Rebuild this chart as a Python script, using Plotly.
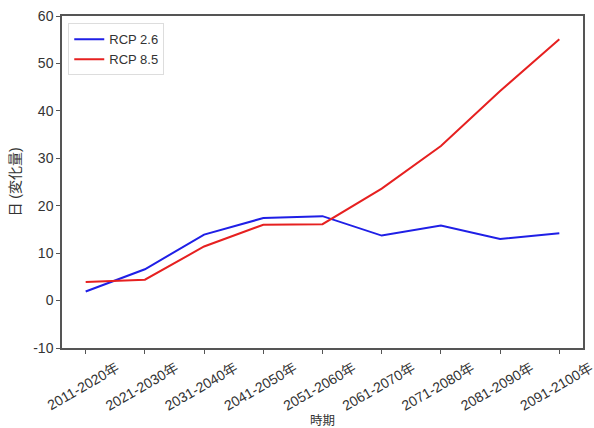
import plotly.graph_objects as go

periods = ["2011-2020年", "2021-2030年", "2031-2040年", "2041-2050年", "2051-2060年",
           "2061-2070年", "2071-2080年", "2081-2090年", "2091-2100年"]
rcp26 = [1.9, 6.6, 13.9, 17.4, 17.8, 13.7, 15.8, 13.0, 14.2]
rcp85 = [3.9, 4.4, 11.4, 16.0, 16.1, 23.6, 32.6, 44.2, 55.1]

y_ticks = [-10, 0, 10, 20, 30, 40, 50, 60]
y_tick_text = ["-10", "0", "10", "20", "30", "40", "50", "60"]

font_latin = "Liberation Sans, Arial, sans-serif"
font_cjk = "Liberation Sans, Noto Sans CJK JP, sans-serif"
axis_color = "#555555"

fig = go.Figure()
fig.add_trace(go.Scatter(x=periods, y=rcp26, mode="lines", name="RCP 2.6",
                         line=dict(color="#1f1fe6", width=2)))
fig.add_trace(go.Scatter(x=periods, y=rcp85, mode="lines", name="RCP 8.5",
                         line=dict(color="#e62020", width=2)))

fig.update_layout(
    width=594, height=428,
    margin=dict(l=62, r=11, t=16, b=80, autoexpand=False),
    paper_bgcolor="white", plot_bgcolor="white",
    font=dict(family=font_cjk, size=12, color="#333333"),
    showlegend=True,
    legend=dict(x=0.012, y=0.978, xanchor="left", yanchor="top",
                bgcolor="rgba(255,255,255,0.8)", bordercolor="#dddddd", borderwidth=1,
                font=dict(family=font_latin, size=13, color="#333333"),
                itemwidth=30, tracegroupgap=0),
    xaxis=dict(
        type="category", range=[-0.4, 8.4], automargin=False,
        showline=True, linecolor=axis_color, linewidth=1.5, mirror=True,
        ticks="outside", ticklen=4, tickcolor=axis_color,
        tickangle=-30, ticklabelshift=31, ticklabelstandoff=1,
        tickfont=dict(family=font_cjk, size=14, color="#333333"),
        showgrid=False, zeroline=False,
        title=dict(text="時期", font=dict(family=font_cjk, size=12.5), standoff=15),
    ),
    yaxis=dict(
        range=[-10, 60], tickvals=y_ticks, ticktext=y_tick_text, automargin=False,
        showline=True, linecolor=axis_color, linewidth=1.5, mirror=True,
        ticks="outside", ticklen=4, tickcolor=axis_color,
        tickfont=dict(family=font_latin, size=14, color="#333333"),
        showgrid=False, zeroline=False,
        title=dict(text="日 (変化量)", font=dict(family=font_cjk, size=14), standoff=9),
    ),
)

fig.write_html("out.html")
